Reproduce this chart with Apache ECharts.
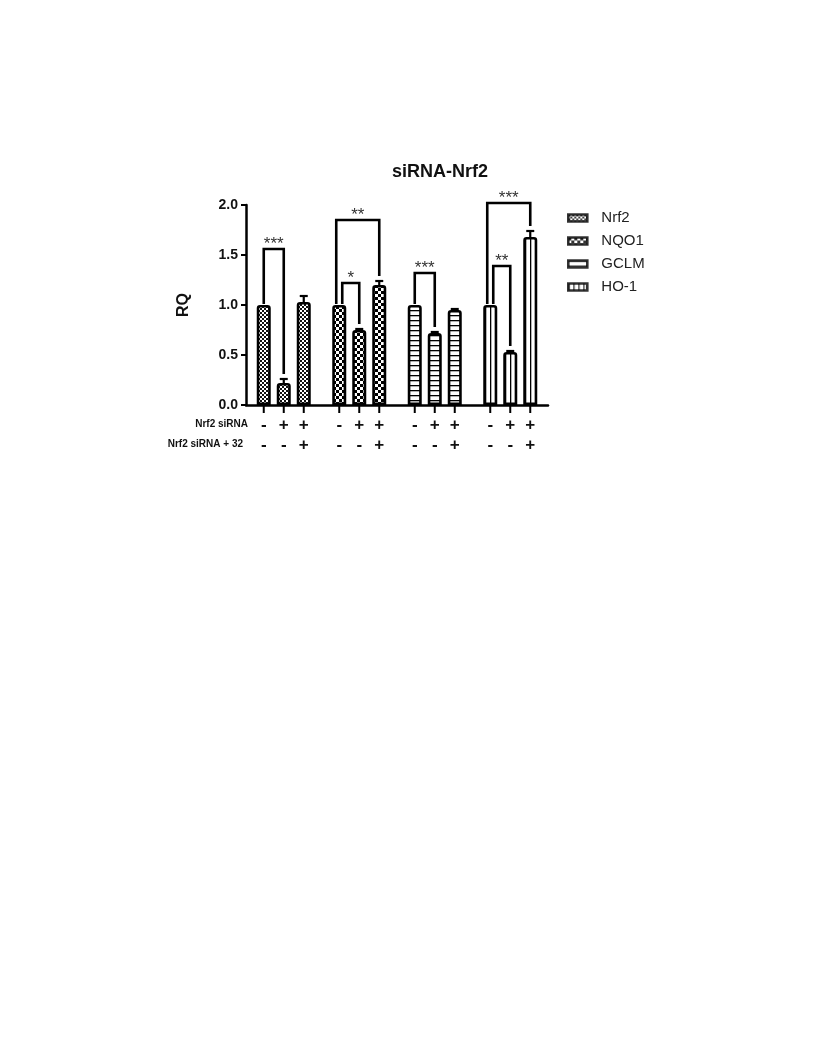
<!DOCTYPE html>
<html>
<head>
<meta charset="utf-8">
<script src="https://cdn.jsdelivr.net/npm/echarts@6/dist/echarts.min.js"></script>
<style>
  html, body { margin: 0; padding: 0; background: #fff; }
  #chart { width: 816px; height: 1056px; }
</style>
</head>
<body>
<div id="chart"></div>
<script>
// ---------------- data ----------------
const genes = ['Nrf2', 'NQO1', 'GCLM', 'HO-1'];
const conditions = ['Control', 'Nrf2 siRNA', 'Nrf2 siRNA + 32'];
const controlRQ = [1.00, 1.00, 1.00, 1.00];
const siRNARQ = [0.22, 0.75, 0.72, 0.53];
const siRNA32RQ = [1.03, 1.20, 0.95, 1.68];
const controlErr = [0, 0, 0, 0];
const siRNAErr = [0.04, 0.01, 0.01, 0.01];
const siRNA32Err = [0.06, 0.04, 0.01, 0.06];
const rowLabels = ['Nrf2 siRNA', 'Nrf2 siRNA + 32'];
const siRNASigns = ['-', '+', '+'];
const siRNA32Signs = ['-', '-', '+'];
const yMin = 0, yMax = 2, yStep = 0.5;
// [gene index, bracket level, from condition, to condition, label]
const brackets = [
  [0, 1.56, 0, 1, '***'],
  [1, 1.22, 0, 1, '*'],
  [1, 1.85, 0, 2, '**'],
  [2, 1.32, 0, 1, '***'],
  [3, 1.39, 0, 1, '**'],
  [3, 2.02, 0, 2, '***']
];

// ---------------- layout / style ----------------
const values = [controlRQ, siRNARQ, siRNA32RQ];
const errs = [controlErr, siRNAErr, siRNA32Err];
const FONT = '"Liberation Sans", Arial, sans-serif';
const BAR_W = 14, STEP = 20;

function makePattern(kind) {
  const c = document.createElement('canvas');
  let ctx;
  if (kind === 'fine') {
    c.width = 4; c.height = 4; ctx = c.getContext('2d');
    ctx.fillStyle = '#fff'; ctx.fillRect(0, 0, 4, 4);
    ctx.fillStyle = '#111'; ctx.fillRect(0, 0, 2, 2); ctx.fillRect(2, 2, 2, 2);
  } else if (kind === 'checker') {
    c.width = 6; c.height = 6; ctx = c.getContext('2d');
    ctx.fillStyle = '#fff'; ctx.fillRect(0, 0, 6, 6);
    ctx.fillStyle = '#000'; ctx.fillRect(0, 0, 3, 3); ctx.fillRect(3, 3, 3, 3);
  } else if (kind === 'hlines') {
    c.width = 5; c.height = 5; ctx = c.getContext('2d');
    ctx.fillStyle = '#fff'; ctx.fillRect(0, 0, 5, 5);
    ctx.fillStyle = '#000'; ctx.fillRect(0, 0, 5, 1.3);
  } else {
    c.width = 5; c.height = 5; ctx = c.getContext('2d');
    ctx.fillStyle = '#fff'; ctx.fillRect(0, 0, 5, 5);
    ctx.fillStyle = '#000'; ctx.fillRect(0, 0, 1.3, 5);
  }
  return { image: c, repeat: 'repeat' };
}
const patterns = [makePattern('fine'), makePattern('checker'), makePattern('hlines'), makePattern('vlines')];

const barSeries = conditions.map((cond, i) => ({
  type: 'bar',
  name: cond,
  barWidth: BAR_W,
  barGap: ((STEP - BAR_W) / BAR_W * 100).toFixed(2) + '%',
  data: values[i].map((v, g) => ({
    value: v,
    itemStyle: { color: patterns[g], borderColor: '#000', borderWidth: 2.6, borderRadius: [2, 2, 0, 0] }
  })),
  emphasis: { disabled: true },
  z: 2
}));

const legendSeries = genes.map(gname => ({ type: 'scatter', name: gname, data: [] }));

const errorData = [];
values.forEach((arr, i) => arr.forEach((v, g) => { if (errs[i][g] > 0) errorData.push([g, v, i]); }));

const tickData = [];
genes.forEach((gname, g) => conditions.forEach((c, i) => tickData.push([g, 0, i])));

const option = {
  animation: false,
  backgroundColor: '#fff',
  title: {
    text: 'siRNA-Nrf2',
    left: 392, top: 163, padding: 0,
    textStyle: { fontFamily: FONT, fontSize: 18, fontWeight: 'bold', color: '#111' }
  },
  legend: {
    orient: 'vertical',
    left: 567, top: 209, padding: 0,
    itemWidth: 19, itemHeight: 7, itemGap: 5,
    textStyle: { fontFamily: FONT, fontSize: 15, color: '#222', lineHeight: 18, padding: [0, 0, 0, 9] },
    data: genes.map((gname, g) => ({
      name: gname, icon: 'rect',
      itemStyle: { color: patterns[g], borderColor: '#000', borderWidth: 2.6 }
    })),
    selectedMode: false
  },
  grid: { left: 246, right: 268, top: 205, bottom: 651, containLabel: false },
  xAxis: {
    type: 'category',
    data: genes,
    axisLine: { show: true, lineStyle: { color: '#000', width: 2.5 } },
    axisTick: { show: false },
    axisLabel: { show: false },
    splitLine: { show: false }
  },
  yAxis: {
    type: 'value',
    min: yMin, max: yMax, interval: yStep,
    name: 'RQ', nameLocation: 'middle', nameGap: 54, nameRotate: 90,
    nameTextStyle: { fontFamily: FONT, fontSize: 16, fontWeight: 'bold', color: '#111' },
    axisLine: { show: true, lineStyle: { color: '#000', width: 2.5 } },
    axisTick: { show: true, length: 5, lineStyle: { color: '#000', width: 2 } },
    axisLabel: {
      margin: 8, fontFamily: FONT, fontSize: 14, fontWeight: 'bold', color: '#111',
      formatter: v => v.toFixed(1)
    },
    splitLine: { show: false }
  },
  series: [
    ...barSeries,
    ...legendSeries,
    {
      type: 'custom', name: 'errors', clip: false, z: 3,
      data: errorData,
      renderItem: (params, api) => {
        const g = api.value(0), v = api.value(1), i = api.value(2);
        const cx = api.coord([g, 0])[0] + (i - 1) * STEP;
        const yTop = api.coord([g, v + errs[i][g]])[1];
        const yBar = api.coord([g, v])[1];
        return {
          type: 'group', children: [
            { type: 'line', shape: { x1: cx, y1: yBar, x2: cx, y2: yTop }, style: { stroke: '#000', lineWidth: 2.2 } },
            { type: 'line', shape: { x1: cx - 4, y1: yTop, x2: cx + 4, y2: yTop }, style: { stroke: '#000', lineWidth: 2.2 } }
          ]
        };
      }
    },
    {
      type: 'custom', name: 'brackets', clip: false, z: 4,
      data: brackets.map(b => [b[0], b[1], b[2], b[3]]),
      renderItem: (params, api) => {
        const g = api.value(0), level = api.value(1), from = api.value(2), to = api.value(3);
        const label = brackets[params.dataIndex][4];
        const cx = api.coord([g, 0])[0];
        const nested = brackets.filter(b => b[0] === g).length > 1;
        const dx = nested ? (to === 2 ? -3 : 3) : 0;
        const x1 = cx + (from - 1) * STEP + dx;
        const x2 = cx + (to - 1) * STEP;
        const yl = api.coord([g, level])[1];
        const y1 = api.coord([g, values[from][g] + errs[from][g] + 0.01])[1];
        const y2 = api.coord([g, values[to][g] + errs[to][g] + 0.05])[1];
        return {
          type: 'group', children: [
            { type: 'polyline', shape: { points: [[x1, y1], [x1, yl], [x2, yl], [x2, y2]] },
              style: { stroke: '#000', lineWidth: 2.6, fill: null } },
            { type: 'text', style: { text: label, x: (x1 + x2) / 2, y: yl - 5, align: 'center', verticalAlign: 'middle',
              font: '17px ' + FONT, fill: '#333' } }
          ]
        };
      }
    },
    {
      type: 'custom', name: 'conditions', clip: false, z: 4,
      data: tickData,
      renderItem: (params, api) => {
        const g = api.value(0), i = api.value(2);
        const p = api.coord([g, 0]);
        const cx = p[0] + (i - 1) * STEP, y0 = p[1];
        const signFont = 'bold 17px ' + FONT;
        return {
          type: 'group', children: [
            { type: 'line', shape: { x1: cx, y1: y0 + 1, x2: cx, y2: y0 + 8 }, style: { stroke: '#000', lineWidth: 2 } },
            { type: 'text', style: { text: siRNASigns[i], x: cx, y: y0 + 20, align: 'center', verticalAlign: 'middle',
              font: signFont, fill: '#111' } },
            { type: 'text', style: { text: siRNA32Signs[i], x: cx, y: y0 + 40, align: 'center', verticalAlign: 'middle',
              font: signFont, fill: '#111' } }
          ]
        };
      }
    }
  ],
  graphic: rowLabels.map((t, r) => ({
    type: 'text',
    right: r === 0 ? 816 - 248 : 816 - 243,
    top: r === 0 ? 419 : 439,
    style: { text: t, font: 'bold 10px ' + FONT, fill: '#111' }
  }))
};

const chart = echarts.init(document.getElementById('chart'), null, { renderer: 'canvas' });
chart.setOption(option);
</script>
</body>
</html>
